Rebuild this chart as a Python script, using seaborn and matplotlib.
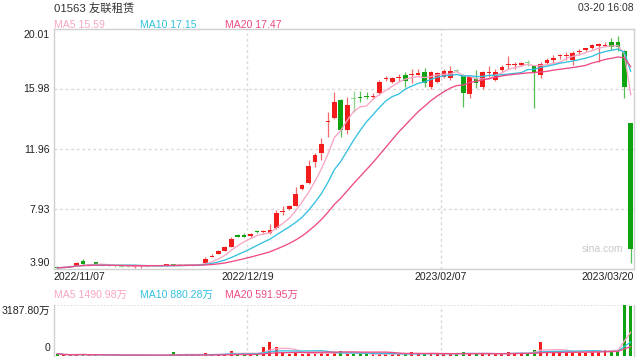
import numpy as np
import pandas as pd
import matplotlib
matplotlib.use("Agg")
import matplotlib.pyplot as plt
import seaborn as sns

sns.set_theme(style="white")
plt.rcParams["font.family"] = ["Liberation Sans", "Noto Sans CJK SC", "DejaVu Sans"]

# ---------------- data ----------------
opens = [4.05, 4.00, 4.05, 4.12, 4.46, 4.18, 4.35, 4.18, 4.14, 4.12,
         4.10, 4.08, 4.02, 4.03, 4.10, 4.11, 4.12, 4.14, 4.22, 4.18,
         4.18, 4.16, 4.18, 4.32, 4.75, 4.91, 5.13, 5.40, 6.14, 6.14,
         6.11, 6.42, 6.38, 6.32, 6.65, 7.75, 7.93, 8.13, 9.27, 9.67,
         11.08, 11.69, 13.75, 14.04, 15.24, 13.23, 15.35, 15.42, 15.51, 15.48,
         15.71, 16.67, 16.47, 16.74, 16.92, 16.93, 16.94, 17.14, 16.14, 16.47,
         16.77, 16.70, 17.23, 16.92, 15.62, 16.72, 16.14, 17.08, 16.59, 17.26,
         17.60, 17.60, 17.64, 17.75, 17.50, 16.90, 17.70, 17.98, 18.20, 18.21,
         17.95, 18.48, 18.65, 18.75, 18.92, 18.90, 19.16, 19.16, 18.55, 13.68]
highs = [4.08, 4.06, 4.14, 4.39, 4.55, 4.25, 4.38, 4.22, 4.18, 4.16,
         4.14, 4.12, 4.12, 4.12, 4.14, 4.15, 4.16, 4.25, 4.26, 4.24,
         4.26, 4.22, 4.24, 4.68, 4.92, 5.18, 5.45, 6.07, 6.22, 6.34,
         6.30, 6.55, 6.55, 6.90, 7.85, 8.10, 8.20, 9.43, 9.60, 11.22,
         11.70, 12.69, 14.44, 15.78, 15.30, 15.45, 15.85, 15.85, 15.80, 15.70,
         16.60, 16.85, 16.80, 17.00, 17.14, 17.32, 17.35, 17.40, 17.20, 17.15,
         17.30, 17.53, 17.30, 17.00, 16.85, 17.26, 17.20, 17.50, 17.30, 17.60,
         18.20, 17.80, 17.80, 17.90, 17.55, 17.80, 18.04, 18.25, 18.35, 18.45,
         18.50, 18.65, 18.75, 19.00, 19.05, 19.12, 19.40, 19.56, 18.60, 13.68]
lows = [3.92, 3.96, 4.02, 4.08, 4.20, 4.12, 4.20, 4.12, 4.08, 4.06,
        4.05, 4.04, 3.98, 3.99, 4.06, 4.07, 4.08, 4.12, 4.12, 4.14,
        4.14, 4.12, 4.14, 4.28, 4.68, 4.88, 5.10, 5.38, 6.02, 6.05,
        5.95, 6.30, 6.30, 6.28, 6.60, 7.50, 7.85, 8.10, 9.20, 9.60,
        10.75, 11.20, 12.76, 13.95, 12.76, 12.96, 14.44, 15.10, 15.30, 15.30,
        15.60, 16.50, 16.40, 16.50, 16.14, 16.40, 16.90, 16.10, 16.00, 16.40,
        16.70, 16.60, 17.10, 14.79, 15.36, 16.03, 16.00, 16.80, 16.55, 17.10,
        17.35, 17.35, 17.55, 17.55, 14.69, 16.75, 17.65, 17.75, 18.00, 17.95,
        17.60, 18.25, 18.50, 18.70, 17.82, 18.85, 18.60, 18.50, 15.36, 4.28]
closes = [3.98, 4.03, 4.10, 4.32, 4.23, 4.20, 4.22, 4.16, 4.12, 4.10,
          4.08, 4.06, 4.10, 4.10, 4.11, 4.12, 4.13, 4.22, 4.18, 4.17,
          4.16, 4.18, 4.22, 4.57, 4.78, 5.11, 5.40, 5.91, 6.10, 6.10,
          6.25, 6.38, 6.42, 6.52, 7.66, 7.80, 8.13, 8.93, 9.54, 10.81,
          11.55, 12.29, 13.85, 15.11, 13.23, 14.91, 15.30, 15.36, 15.43, 15.52,
          16.45, 16.72, 16.72, 16.78, 16.55, 16.97, 17.08, 16.37, 17.14, 17.06,
          17.19, 17.19, 17.20, 15.73, 16.81, 16.41, 17.14, 17.12, 17.14, 17.48,
          17.65, 17.65, 17.68, 17.72, 17.05, 17.68, 17.95, 18.02, 18.24, 18.25,
          18.41, 18.52, 18.69, 18.96, 18.96, 18.94, 18.82, 18.82, 16.14, 5.23]
volumes = [150, 40, 60, 90, 110, 40, 80, 30, 30, 40,
           30, 30, 60, 50, 30, 30, 30, 70, 220, 40,
           90, 60, 50, 160, 80, 120, 150, 330, 110, 150,
           90, 150, 590, 850, 590, 220, 120, 240, 110, 200,
           180, 200, 150, 200, 330, 150, 120, 130, 100, 110,
           150, 120, 140, 110, 130, 250, 120, 140, 160, 130,
           140, 120, 100, 260, 170, 180, 150, 110, 140, 120,
           220, 200, 180, 170, 390, 850, 330, 230, 210, 256,
           240, 230, 260, 300, 320, 400, 390, 350, 3187.8, 3127]

date_labels = ["2022/11/07", "2022/12/19", "2023/02/07", "2023/03/20"]
date_pos = [0, 30, 60, 90]
price_ticks = ["20.01", "15.98", "11.96", "7.93", "3.90"]
price_min, price_max = 3.90, 20.01
vol_max = 3187.80
title = "01563 友联租赁"
stamp = "03-20 16:08"
ma_price_text = ["MA5 15.59", "MA10 17.15", "MA20 17.47"]
ma_vol_text = ["MA5 1490.98万", "MA10 880.28万", "MA20 591.95万"]
vol_ticks = ["3187.80万", "0"]
faint = [1, 2, 5, 7, 8, 9, 10, 11, 14, 15, 16, 19, 20, 21, 22, 46, 62, 73]

# ---------------- styling ----------------
RED, GREEN = "#f21c1c", "#10a310"
RED_L, GREEN_L = "#f7a0a0", "#8ad68a"
RED_W, GREEN_W = "#f46a6a", "#55bf55"
C_MA5, C_MA10, C_MA20 = "#f9a6c4", "#33c1e0", "#ee4b86"
FRAME = "#cfcfcf"
GRID = "#d9d9d9"
TXT = "#222222"

W, H = 640, 360
df = pd.DataFrame({"open": opens, "high": highs, "low": lows,
                   "close": closes, "vol": volumes})
n = len(df)
df["x"] = np.arange(n) + 0.5
for k in (5, 10, 20):
    df[f"ma{k}"] = df["close"].rolling(k, min_periods=1).mean()
    df[f"vma{k}"] = df["vol"].rolling(k, min_periods=1).mean()

fig = plt.figure(figsize=(W / 100, H / 100), dpi=100)
fig.patch.set_facecolor("white")


def fx(px):
    return px / W


def fy(py):
    return 1 - py / H


axp = fig.add_axes([fx(54), fy(269), 580 / W, 240 / H])
axv = fig.add_axes([fx(54), fy(356), 580 / W, 51 / H])

# ---------------- price panel ----------------
for i, r in df.iterrows():
    is_up = r["close"] >= r["open"]
    light = i in faint
    body_c = (RED_L if light else RED) if is_up else (GREEN_L if light else GREEN)
    wick_c = (RED_L if light else RED_W) if is_up else (GREEN_L if light else GREEN_W)
    axp.vlines(r["x"], r["low"], r["high"], color=wick_c, linewidth=0.9, zorder=2)
    lo, hi = min(r["open"], r["close"]), max(r["open"], r["close"])
    h = hi - lo
    minh = 0.08
    if h < minh:
        mid = (lo + hi) / 2
        lo, h = mid - minh / 2, minh
    axp.bar(r["x"], h, bottom=lo, width=0.74, color=body_c, linewidth=0, zorder=3)

for col, c in (("ma5", C_MA5), ("ma10", C_MA10), ("ma20", C_MA20)):
    sns.lineplot(data=df, x="x", y=col, ax=axp, color=c, linewidth=0.95, zorder=4, legend=False)

axp.set_xlim(0, n)
axp.set_ylim(price_min, price_max)
step = (price_max - price_min) / 4
for k in (1, 2, 3):
    axp.axhline(price_min + k * step, color=GRID, linewidth=1, linestyle=(0, (2, 2)), zorder=1)
for p in date_pos[1:3]:
    axp.axvline(p, color=GRID, linewidth=1, linestyle=(0, (2, 2)), zorder=1)
axp.set_xticks([])
axp.set_yticks([])
axp.set_xlabel("")
axp.set_ylabel("")
for s in axp.spines.values():
    s.set_color(FRAME)
    s.set_linewidth(1)

# ---------------- volume panel ----------------
vcols = [RED if c >= o else GREEN for o, c in zip(opens, closes)]
axv.bar(df["x"], df["vol"], width=0.44, color=vcols, linewidth=0, zorder=2)
for col, c in (("vma5", C_MA5), ("vma10", C_MA10), ("vma20", C_MA20)):
    sns.lineplot(data=df, x="x", y=col, ax=axv, color=c, linewidth=0.95, zorder=3, legend=False)
axv.set_xlim(0, n)
axv.set_ylim(0, vol_max)
axv.axhline(vol_max, color=GRID, linewidth=1.2, linestyle=(0, (1, 1)), zorder=1)
for p in date_pos[1:3]:
    axv.axvline(p, color=GRID, linewidth=1, linestyle=(0, (2, 2)), zorder=1)
axv.set_xticks([])
axv.set_yticks([])
axv.set_xlabel("")
axv.set_ylabel("")
for side, s in axv.spines.items():
    s.set_color(FRAME)
    s.set_linewidth(1)
axv.spines["top"].set_visible(False)
axv.spines["bottom"].set_visible(False)

# ---------------- texts ----------------
fig.text(fx(54), fy(8), title, fontsize=8.2, color="#333333", ha="left", va="center")
fig.text(fx(634), fy(8), stamp, fontsize=7.5, color="#333333", ha="right", va="center")
for t, xp, c in zip(ma_price_text, [54, 140, 225], [C_MA5, C_MA10, C_MA20]):
    fig.text(fx(xp), fy(24.5), t, fontsize=7.6, color=c, ha="left", va="center")
for t, xp, c in zip(ma_vol_text, [54, 140, 225], [C_MA5, C_MA10, C_MA20]):
    fig.text(fx(xp), fy(295), t, fontsize=7.6, color=c, ha="left", va="center")
for t, yp in zip(price_ticks, [35, 89, 150, 210, 263]):
    fig.text(fx(50), fy(yp), t, fontsize=7.6, color=TXT, ha="right", va="center")
for t, yp in zip(vol_ticks, [310.5, 348]):
    fig.text(fx(50), fy(yp), t, fontsize=7.6, color=TXT, ha="right", va="center")
aligns = ["left", "center", "center", "right"]
for t, p, a in zip(date_labels, date_pos, aligns):
    xpix = 54 + p * 580 / n
    fig.text(fx(xpix), fy(277), t, fontsize=7.6, color=TXT, ha=a, va="center")
fig.text(fx(623), fy(249.5), "sina.com", fontsize=7.5, color="#c9c9c9", ha="right", va="center")

fig.savefig("out.png", dpi=100, facecolor="white")
